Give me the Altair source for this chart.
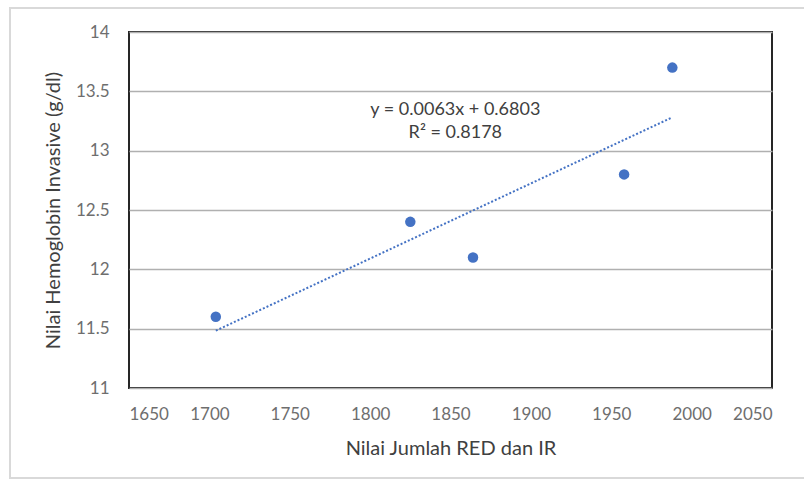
import altair as alt
import pandas as pd

x_vals = [1704, 1825, 1864, 1958, 1988]
y_vals = [11.6, 12.4, 12.1, 12.8, 13.7]
eq_lines = ["y = 0.0063x + 0.6803", "R² = 0.8178"]
eq_x = [1853, 1853]
eq_y = [13.345, 13.15]

df = pd.DataFrame({"x": x_vals, "y": y_vals})
df_eq = pd.DataFrame({"t": eq_lines, "x": eq_x, "y": eq_y})

FONT = "Lato"
BLUE = "#4472C4"

xs = alt.Scale(domain=[1650, 2050], nice=False, zero=False)
ys = alt.Scale(domain=[11, 14], nice=False, zero=False)

base = alt.Chart(df)

points = base.mark_circle(size=110, color=BLUE, opacity=1).encode(
    x=alt.X("x:Q", scale=xs,
            axis=alt.Axis(title="Nilai Jumlah RED dan IR", values=list(range(1650, 2051, 50)),
                          format="d",
                          grid=False, ticks=False, domain=False, labelPadding=18,
                          labelColor="#6e6e6e", labelFontSize=17, labelFont=FONT,
                          titleFont=FONT, titleFontSize=20, titleFontWeight="normal",
                          titleColor="#404040", titlePadding=16)),
    y=alt.Y("y:Q", scale=ys,
            axis=alt.Axis(title="Nilai Hemoglobin Invasive (g/dl)", values=[11, 11.5, 12, 12.5, 13, 13.5, 14],
                          format=".1~f",
                          grid=True, gridColor="#b0b0b0", gridWidth=1.5, ticks=False, domain=False,
                          labelPadding=20, labelColor="#6e6e6e", labelFontSize=17, labelFont=FONT,
                          titleFont=FONT, titleFontSize=20, titleFontWeight="normal",
                          titleColor="#404040", titlePadding=12)),
)

trend = base.transform_regression("x", "y").mark_line(
    color=BLUE, strokeDash=[2, 2], strokeWidth=2
).encode(x=alt.X("x:Q", scale=xs), y=alt.Y("y:Q", scale=ys))

eq = alt.Chart(df_eq).mark_text(font=FONT, fontSize=18, color="#404040", align="center").encode(
    x=alt.X("x:Q", scale=xs), y=alt.Y("y:Q", scale=ys), text="t:N"
)

frame = alt.Chart(df).mark_rect(fill=None, stroke="#d9d9d9", strokeWidth=1.5).encode(
    x=alt.value(-119), x2=alt.value(700), y=alt.value(-24), y2=alt.value(446)
)

chart = alt.layer(frame, trend, points, eq).properties(
    width=643, height=356,
    autosize=alt.AutoSizeParams(type="none"),
    padding={"left": 129, "top": 32, "right": 32, "bottom": 91},
    background="white",
).configure_view(stroke="#262626", strokeWidth=2)

chart.save("out.html", embed_options={"renderer": "svg", "actions": False})
